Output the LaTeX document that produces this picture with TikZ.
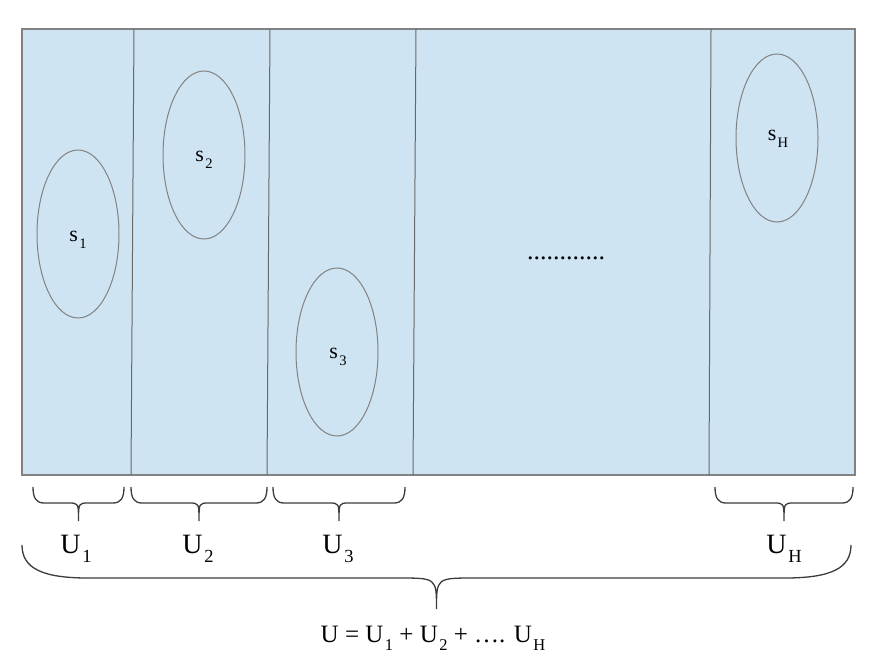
\documentclass[tikz,border=0pt]{standalone}
\usepackage{fontspec}
\setmainfont{Liberation Serif}
\usetikzlibrary{shapes.geometric}
\definecolor{cellblue}{RGB}{207,228,242}
\definecolor{rimgray}{RGB}{130,130,130}
\definecolor{inkgray}{RGB}{60,60,60}
% low subscript, as in the drawing
\newcommand{\lsub}[1]{\kern0.06em\raisebox{-0.32em}{\scalebox{0.66}{#1}}}
% horizontal brace: x1, x2, ytop, yflat, ytip, end radius, middle radius
\newcommand{\hbrace}[7]{%
  \draw[brace line] (#1,#3) .. controls (#1,{#3+0.7*(#4-#3)}) and ({#1+0.3*#6},#4) .. ({#1+#6},#4)
     -- ({(#1+#2)/2-#7},#4) .. controls ({(#1+#2)/2},#4) .. ({(#1+#2)/2},#5)
     .. controls ({(#1+#2)/2},#4) .. ({(#1+#2)/2+#7},#4)
     -- ({#2-#6},#4) .. controls ({#2-0.3*#6},#4) and (#2,{#3+0.7*(#4-#3)}) .. (#2,#3);}

\begin{document}
\begin{tikzpicture}[x=1pt,y=-1pt,
    region/.style={ellipse,draw=rimgray,line width=1pt,minimum width=82pt,minimum height=168pt,inner sep=0pt},
    brace line/.style={draw=inkgray,line width=1.3pt},
    slbl/.style={font=\fontsize{22}{24}\selectfont},
    ulbl/.style={font=\fontsize{28}{30}\selectfont},
    sumlbl/.style={font=\fontsize{25}{27}\selectfont}]
  \useasboundingbox (0,0) rectangle (877,668);
  % the universe
  \fill[cellblue] (22,29) rectangle (855,475);
  \draw[rimgray,line width=1.5pt] (22,29) rectangle (855,475);
  % strata borders
  \draw[rimgray!80!black,line width=1pt] (134,29) -- (131,475);
  \draw[rimgray!80!black,line width=1pt] (270,29) -- (267,475);
  \draw[rimgray!80!black,line width=1pt] (416,29) -- (413,475);
  \draw[rimgray!80!black,line width=1pt] (711,29) -- (709,475);
  % samples
  \node[region] (s1) at (78,234) {};
  \node[region] (s2) at (204,155) {};
  \node[region] (s3) at (337,352) {};
  \node[region] (sH) at (777,138) {};
  \node[slbl] (s1l) at (78,240) {s\lsub{1}};
  \node[slbl] (s2l) at (204,160) {s\lsub{2}};
  \node[slbl] (s3l) at (338,357) {s\lsub{3}};
  \node[slbl] (sHl) at (778,139) {s\lsub{H}};
  \node[font=\fontsize{26}{28}\selectfont] (dots) at (566,258) {............};
  % braces
  \hbrace{33}{124}{487}{503}{521}{11}{10}
  \hbrace{131}{267}{487}{503}{521}{11}{10}
  \hbrace{273}{405}{487}{503}{521}{11}{10}
  \hbrace{715}{853}{487}{503}{521}{11}{10}
  \hbrace{22}{851}{545}{578}{609}{66}{38}
  \node[ulbl] (u1) at (76,549) {U\lsub{1}};
  \node[ulbl] (u2) at (198,549) {U\lsub{2}};
  \node[ulbl] (u3) at (338,549) {U\lsub{3}};
  \node[ulbl] (uH) at (784,549) {U\lsub{H}};
  \node[sumlbl] (usum) at (433,638) {U = U\lsub{1} + U\lsub{2} + …. U\lsub{H}};
\end{tikzpicture}
\end{document}
